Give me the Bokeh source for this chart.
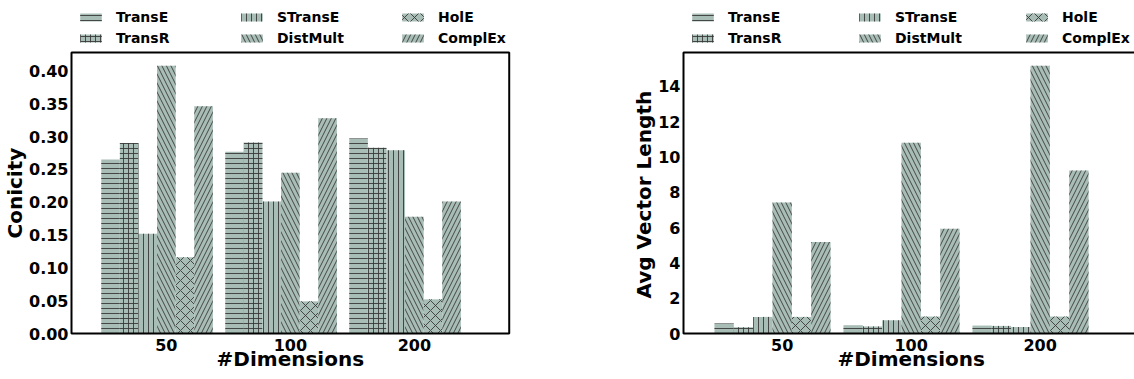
from bokeh.plotting import figure
from bokeh.layouts import row
from bokeh.models import (FixedTicker, NumeralTickFormatter, Legend, LegendItem,
                          Range1d, BoxAnnotation, Title, Label)
from bokeh.core.properties import value
from bokeh.embed import file_html
from bokeh.resources import INLINE

# ---------------- data ----------------
dims = ["50", "100", "200"]
models = ["TransE", "TransR", "STransE", "DistMult", "HolE", "ComplEx"]

conicity_transe = [0.265, 0.277, 0.297]
conicity_transr = [0.290, 0.291, 0.283]
conicity_stranse = [0.152, 0.201, 0.279]
conicity_distmult = [0.408, 0.245, 0.178]
conicity_hole = [0.116, 0.049, 0.052]
conicity_complex = [0.346, 0.328, 0.201]

avglen_transe = [0.56, 0.47, 0.45]
avglen_transr = [0.36, 0.40, 0.43]
avglen_stranse = [0.94, 0.75, 0.37]
avglen_distmult = [7.42, 10.80, 15.17]
avglen_hole = [0.94, 0.96, 0.96]
avglen_complex = [5.18, 5.94, 9.23]

conicity_ticks = [0.0, 0.05, 0.10, 0.15, 0.20, 0.25, 0.30, 0.35, 0.40]
avglen_ticks = [0, 2, 4, 6, 8, 10, 12, 14]

x_title = "#Dimensions"
y_title_left = "Conicity"
y_title_right = "Avg Vector Length"

# legend shows entries column by column (2 rows x 3 columns)
legend_order = [0, 2, 4, 1, 3, 5]

# ---------------- style / layout ----------------
hatches = ["horizontal_line", "cross", "vertical_line",
           "left_diagonal_line", "diagonal_cross", "right_diagonal_line"]
hatch_scales = [5, 5, 5, 9, 10, 9]
FILL = "#a7bdb5"
HATCH = "#3a3a3a"
FONT = "DejaVu Sans"
BAR_W = 0.15
H = 379
BOX_TOP_PX = 52      # top edge of the black box (pixels from top)
BOX_BOT_PX = 333     # bottom edge of the black box
PAD = 2              # extra frame pixels so the box line is not clipped
TICK_LABEL_PX = 344  # vertical centre of the x tick labels
X_TITLE_PX = 358     # vertical centre of the x axis title


def make_fig(series, ylabel, yticks, y_end, fmt, width, b_left, px_per_unit,
             b_right, box_x0, box_x1, label_w, ylab_off):
    frame_w = width - b_left - b_right
    y_per_px = y_end / (BOX_BOT_PX - BOX_TOP_PX)
    x_start = box_x0 - PAD / px_per_unit
    x_end = x_start + frame_w / px_per_unit
    y_start = -(H - BOX_BOT_PX) * y_per_px
    y_top = BOX_BOT_PX * y_per_px

    p = figure(width=width, height=H, output_backend="svg", toolbar_location=None,
               x_range=Range1d(x_start, x_end), y_range=Range1d(y_start, y_top),
               x_axis_type=None,
               min_border_left=b_left, min_border_right=b_right,
               min_border_top=0, min_border_bottom=0)
    items = []
    for i, (name, vals) in enumerate(zip(models, series)):
        xs = [g + (i - 3) * BAR_W for g in range(len(dims))]
        r = p.vbar(x=xs, top=vals, bottom=0, width=BAR_W, fill_color=FILL, line_color=None,
                   hatch_pattern=hatches[i], hatch_color=HATCH, hatch_alpha=0.9,
                   hatch_scale=hatch_scales[i], hatch_weight=1)
        items.append(LegendItem(label=name, renderers=[r]))

    legend = Legend(items=[items[k] for k in legend_order], location="top_left",
                    orientation="horizontal", ncols=3,
                    margin=8, padding=0, spacing=3,
                    glyph_width=27, glyph_height=10, label_standoff=12,
                    label_width=label_w, label_height=18,
                    label_text_font=FONT, label_text_font_style="bold",
                    label_text_font_size="14px", label_text_color="black",
                    border_line_color=None, background_fill_alpha=0)
    p.add_layout(legend)

    box = BoxAnnotation(left=box_x0, right=box_x1, bottom=0, top=y_end,
                        fill_color=None, fill_alpha=0,
                        line_color="black", line_width=2, line_alpha=1)
    p.add_layout(box)

    p.grid.visible = False
    p.outline_line_color = None
    p.background_fill_color = "white"
    p.border_fill_color = "white"

    # x tick labels (categories) placed through the x scale
    tick_y = -(TICK_LABEL_PX - BOX_BOT_PX) * y_per_px
    p.text(x=list(range(len(dims))), y=[tick_y] * len(dims), text=dims,
           text_font=value(FONT), text_font_style="bold", text_font_size="16px",
           text_color="black", text_align="center", text_baseline="middle")
    p.add_layout(Label(x=(box_x0 + box_x1) / 2, y=H - X_TITLE_PX,
                       x_units="data", y_units="screen", text=x_title,
                       text_font=FONT, text_font_style="bold", text_font_size="20px",
                       text_color="black", text_align="center", text_baseline="middle"))

    ax = p.yaxis[0]
    ax.axis_line_color = None
    ax.major_tick_line_color = None
    ax.minor_tick_line_color = None
    ax.major_tick_out = 0
    ax.major_tick_in = 0
    ax.major_label_text_font = FONT
    ax.major_label_text_font_style = "bold"
    ax.major_label_text_font_size = "16px"
    ax.major_label_text_color = "black"
    ax.ticker = FixedTicker(ticks=yticks)
    ax.formatter = NumeralTickFormatter(format=fmt)
    ax.major_label_standoff = 1

    yt = Title(text=ylabel, align="left", offset=ylab_off, standoff=0,
               text_font=FONT, text_font_style="bold", text_font_size="20px",
               text_color="black")
    p.add_layout(yt, "left")
    return p


p1 = make_fig([conicity_transe, conicity_transr, conicity_stranse,
               conicity_distmult, conicity_hole, conicity_complex],
              y_title_left, conicity_ticks, 0.428, "0.00",
              560, 71 - PAD, 124.0, 18, -0.765, 2.765, 119, H - 238)
p2 = make_fig([avglen_transe, avglen_transr, avglen_stranse,
               avglen_distmult, avglen_hole, avglen_complex],
              y_title_right, avglen_ticks, 15.92, "0",
              574, 683 - 560 - PAD, 129.0, 0, -0.765, 2.765, 125, H - 298)

layout = row(p1, p2)
open("out.html", "w").write(file_html(layout, INLINE))
